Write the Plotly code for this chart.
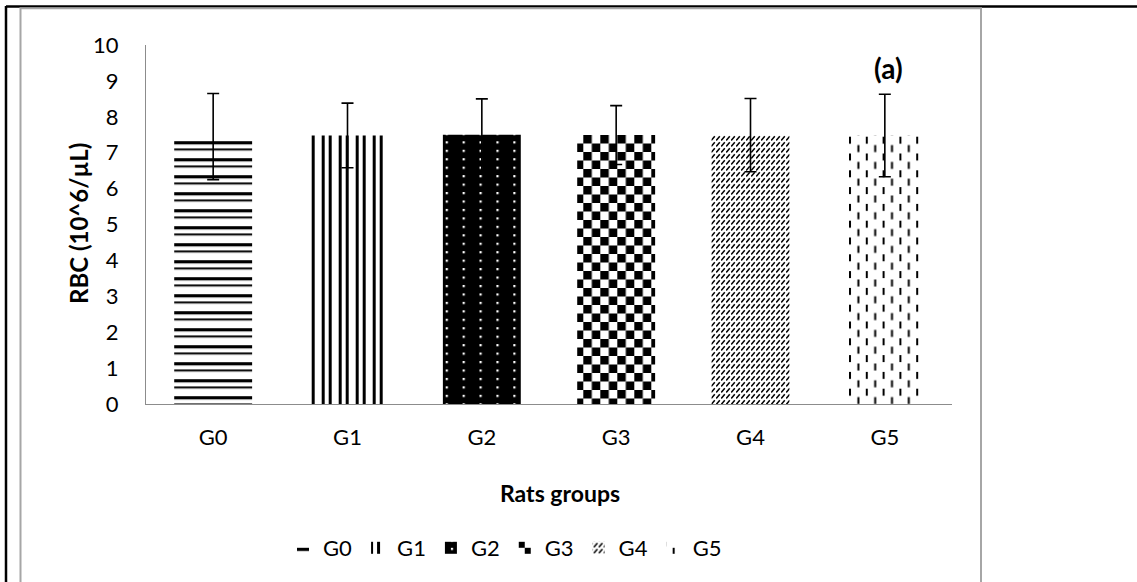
import json
import plotly.graph_objects as go

# Red blood cell counts per rat group (mean and standard deviation, 10^6/µL)
groups = ["G0", "G1", "G2", "G3", "G4", "G5"]
rbc_mean = [7.45, 7.48, 7.50, 7.49, 7.49, 7.48]
rbc_sd = [1.20, 0.90, 1.00, 0.82, 1.02, 1.15]
y_ticks = [0, 1, 2, 3, 4, 5, 6, 7, 8, 9, 10]

W, H = 1137, 582
L, R, T, B = 146, 185, 45, 178
PW, PH = W - L - R, H - T - B

FONT = "Lato, 'Open Sans', sans-serif"


def px_x(p):
    return (p - L) / PW


def px_y(p):
    return (H - B - p) / PH


# fallback built-in fills (refined by the custom SVG tiles below)
builtin = [
    dict(shape="-", size=8.5, solidity=0.3, fgcolor="black", bgcolor="white"),
    dict(shape="|", size=8.5, solidity=0.35, fgcolor="black", bgcolor="white"),
    dict(shape=".", size=8.5, solidity=0.05, fgcolor="white", bgcolor="black"),
    dict(shape="+", size=8.5, solidity=0.5, fgcolor="black", bgcolor="white"),
    dict(shape="/", size=5, solidity=0.25, fgcolor="black", bgcolor="white"),
    dict(shape="|", size=8.4, solidity=0.2, fgcolor="black", bgcolor="white"),
]

fig = go.Figure()
for i, g in enumerate(groups):
    fig.add_trace(go.Bar(
        x=[g], y=[rbc_mean[i]], name=g,
        marker=dict(color="white", line=dict(width=0), pattern=builtin[i]),
        error_y=dict(type="data", array=[rbc_sd[i]], visible=True,
                     color="black", thickness=1.6, width=6),
    ))

# frame around the chart
shapes = [
    dict(type="line", xref="paper", yref="paper", x0=px_x(6), x1=px_x(1140),
         y0=px_y(6.5), y1=px_y(6.5), line=dict(color="black", width=2.5)),
    dict(type="line", xref="paper", yref="paper", x0=px_x(6), x1=px_x(6),
         y0=px_y(6), y1=px_y(600), line=dict(color="black", width=2.5)),
    dict(type="rect", xref="paper", yref="paper", x0=px_x(20.5), x1=px_x(981),
         y0=px_y(8.3), y1=px_y(600), line=dict(color="#a6a6a6", width=2)),
]

annotations = [
    dict(text="<b>RBC (10^6/µL)</b>", xref="paper", yref="paper",
         x=px_x(78), y=px_y(224), textangle=-90, showarrow=False,
         xanchor="center", yanchor="middle", font=dict(size=24, color="black", family=FONT)),
    dict(text="<b>Rats groups</b>", xref="paper", yref="paper",
         x=px_x(560), y=px_y(493), showarrow=False,
         xanchor="center", yanchor="middle", font=dict(size=23, color="black", family=FONT)),
    dict(text="<b>(a)</b>", xref="paper", yref="paper",
         x=px_x(888), y=px_y(68), showarrow=False,
         xanchor="center", yanchor="middle", font=dict(size=28, color="black", family=FONT)),
]

fig.update_layout(
    width=W, height=H, autosize=False,
    margin=dict(l=L, r=R, t=T, b=B, pad=0),
    paper_bgcolor="white", plot_bgcolor="white",
    font=dict(family=FONT, size=22, color="black"),
    barmode="group", bargap=0.42,
    showlegend=True,
    legend=dict(orientation="h", x=px_x(505), y=px_y(548), xanchor="center",
                yanchor="middle", font=dict(size=22), itemwidth=30,
                traceorder="normal", bgcolor="rgba(0,0,0,0)"),
    shapes=shapes, annotations=annotations,
)
fig.update_xaxes(showline=True, linecolor="#8c8c8c", linewidth=1.3, ticks="",
                 showgrid=False, zeroline=False, ticklabelstandoff=13,
                 tickfont=dict(size=22))
fig.update_yaxes(range=[0, 10], tickvals=y_ticks, showline=True, linecolor="#8c8c8c",
                 linewidth=1.3, ticks="", showgrid=False, zeroline=False,
                 ticklabelstandoff=22, tickfont=dict(size=22))

# custom SVG fill tiles: [tile w, tile h, offset x, offset y, background, rects]
tiles = [
    [8, 17, 0, 11.2, "white", [[0, 0, 8, 3.2, "black"], [0, 7.3, 8, 2, "black"]]],
    [17, 8, 12.7, 0, "white", [[0, 0, 3, 8, "black"], [10, 0, 3, 8, "black"]]],
    [16.9, 8.45, 12.4, 3.35, "black", [[0, 0, 2.2, 2.2, "white"]]],
    [17, 17, 12.3, 5, "white", [[0, 0, 8.5, 8.5, "black"], [8.5, 8.5, 8.5, 8.5, "black"]]],
    [5, 6, 0, 0, "white", [["line", 0.2, 5.4, 3.8, 1.2, "black"]]],
    [16.8, 16.8, 14.2, 7.7, "white", [[0, 0, 2, 7, "black"], [8.4, 8.4, 2, 7, "black"]]],
]

post = """
var gd = document.getElementById('{plot_id}');
var NS = 'http://www.w3.org/2000/svg';
var tiles = TILES;
function mk(tag, attrs, parent) {
  var el = document.createElementNS(NS, tag);
  for (var k in attrs) el.setAttribute(k, attrs[k]);
  parent.appendChild(el);
  return el;
}
function build(prefix, withOffset) {
  var svg = gd.querySelector('svg.main-svg');
  var defs = svg.querySelector('defs');
  tiles.forEach(function(t, i) {
    var id = prefix + i;
    if (document.getElementById(id)) return;
    var p = mk('pattern', {id: id, patternUnits: 'userSpaceOnUse', width: t[0], height: t[1],
                           x: withOffset ? t[2] : 0, y: withOffset ? t[3] : 0}, defs);
    mk('rect', {x: 0, y: 0, width: t[0], height: t[1], fill: t[4]}, p);
    t[5].forEach(function(r) {
      if (r[0] === 'line') {
        mk('line', {x1: r[1], y1: r[2], x2: r[3], y2: r[4], stroke: r[5], 'stroke-width': 1.5}, p);
      } else {
        mk('rect', {x: r[0], y: r[1], width: r[2], height: r[3], fill: r[4]}, p);
      }
    });
  });
}
function apply() {
  build('rbcfill', true);
  build('rbcleg', false);
  gd.querySelectorAll('.barlayer .trace.bars').forEach(function(tr, i) {
    tr.querySelectorAll('.points path').forEach(function(p) { p.style.fill = 'url(#rbcfill' + i + ')'; });
  });
  gd.querySelectorAll('.legend .traces').forEach(function(tr, i) {
    tr.querySelectorAll('.legendpoints path').forEach(function(p) { p.style.fill = 'url(#rbcleg' + i + ')'; });
  });
}
apply();
if (gd.on) gd.on('plotly_afterplot', apply);
""".replace("TILES", json.dumps(tiles))

fig.write_html("out.html", post_script=post, config={"responsive": False, "displayModeBar": False})
